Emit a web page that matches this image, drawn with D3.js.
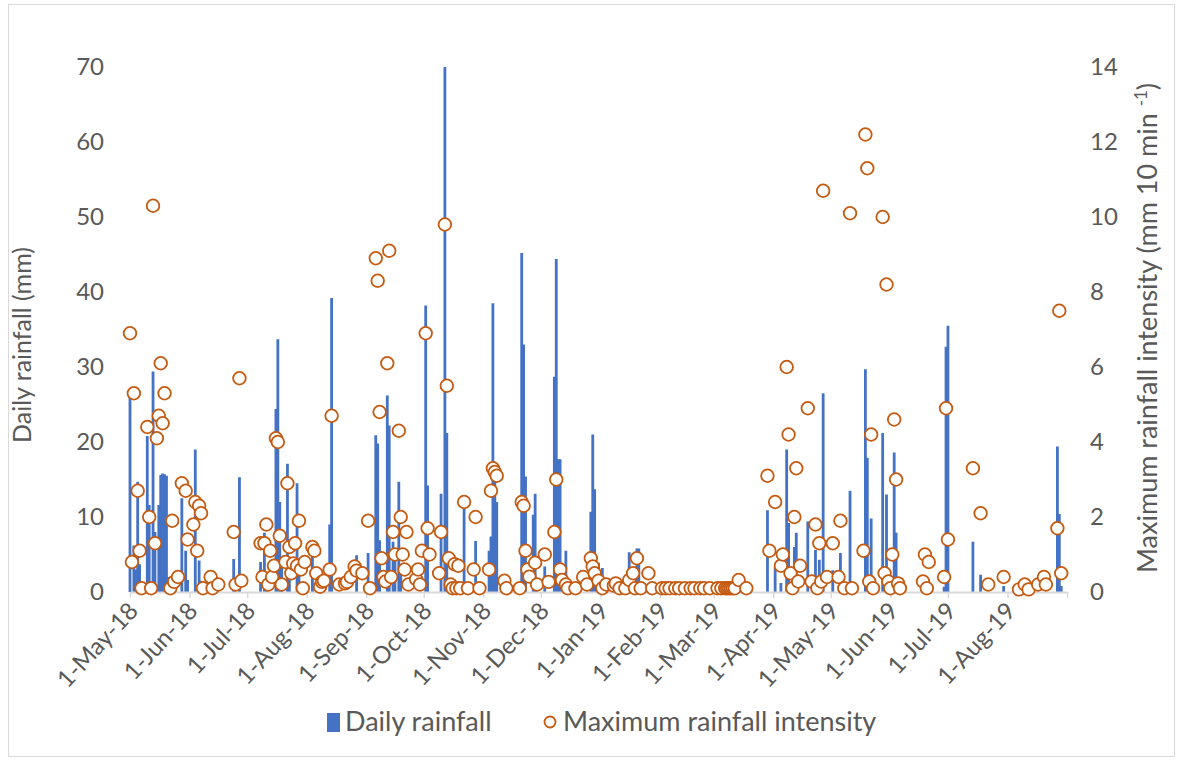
<!DOCTYPE html>
<html>
<head>
<meta charset="utf-8">
<script src="https://cdn.jsdelivr.net/npm/d3@7"></script>
<style>
  html, body { margin: 0; padding: 0; background: #ffffff; }
  svg { display: block; font-family: Lato, "Liberation Sans", sans-serif; }
</style>
</head>
<body>
<svg id="chart" width="1180" height="760"></svg>
<script>
// Daily rainfall (mm), one entry per rain day
const rainfallDays = [
  ["2018-05-01",26.3],["2018-05-03",6.2],["2018-05-04",3.0],["2018-05-05",14.7],["2018-05-06",3.7],
  ["2018-05-07",1.2],["2018-05-10",20.8],["2018-05-11",11.6],["2018-05-13",29.4],["2018-05-14",8.0],
  ["2018-05-16",11.6],["2018-05-17",15.6],["2018-05-18",15.8],["2018-05-19",15.7],["2018-05-20",15.5],
  ["2018-05-21",2.0],["2018-05-22",1.0],["2018-05-28",12.5],["2018-05-30",5.5],["2018-05-31",1.6],
  ["2018-06-04",19.0],["2018-06-06",4.2],["2018-06-07",1.5],["2018-06-24",4.4],["2018-06-27",15.3],
  ["2018-07-08",4.0],["2018-07-10",7.9],["2018-07-11",2.0],["2018-07-16",24.4],["2018-07-17",33.7],
  ["2018-07-18",12.0],["2018-07-19",4.0],["2018-07-22",17.1],["2018-07-23",3.0],["2018-07-27",14.5],
  ["2018-07-28",4.0],["2018-08-04",6.0],["2018-08-13",9.0],["2018-08-14",39.2],["2018-08-27",4.9],
  ["2018-09-02",5.2],["2018-09-06",20.9],["2018-09-07",19.8],["2018-09-08",6.9],["2018-09-12",26.2],
  ["2018-09-13",22.2],["2018-09-15",6.7],["2018-09-16",5.2],["2018-09-18",14.7],["2018-09-19",2.5],
  ["2018-10-02",38.2],["2018-10-03",14.2],["2018-10-10",13.1],["2018-10-12",70.0],["2018-10-13",21.2],
  ["2018-10-22",11.1],["2018-10-28",6.8],["2018-11-04",5.5],["2018-11-05",7.4],["2018-11-06",38.5],
  ["2018-11-07",16.1],["2018-11-08",12.0],["2018-11-21",45.2],["2018-11-22",33.0],["2018-11-23",15.4],
  ["2018-11-27",10.3],["2018-11-28",13.1],["2018-12-03",3.4],["2018-12-08",28.7],["2018-12-09",44.4],
  ["2018-12-10",17.7],["2018-12-11",17.7],["2018-12-14",5.5],["2018-12-27",10.7],["2018-12-28",21.0],
  ["2018-12-29",13.7],["2018-12-31",3.9],["2019-01-02",3.2],["2019-01-16",5.3],["2019-01-20",5.8],
  ["2019-01-21",5.8],["2019-03-29",10.9],["2019-04-02",3.3],["2019-04-05",1.2],["2019-04-08",19.0],
  ["2019-04-09",9.2],["2019-04-12",6.0],["2019-04-13",7.9],["2019-04-19",9.4],["2019-04-23",5.6],
  ["2019-04-25",4.3],["2019-04-27",26.5],["2019-05-02",2.9],["2019-05-06",5.2],["2019-05-11",13.5],
  ["2019-05-19",29.7],["2019-05-20",17.9],["2019-05-22",9.8],["2019-05-28",21.2],["2019-05-30",13.0],
  ["2019-06-03",18.6],["2019-06-04",7.9],["2019-06-29",0.7],["2019-06-30",32.7],["2019-07-01",35.5],
  ["2019-07-14",6.7],["2019-07-18",2.3],["2019-07-30",0.8],["2019-08-27",19.4],["2019-08-28",10.4],
  ["2019-08-29",0.8]
];

// Maximum 10-minute rainfall intensity (mm 10 min-1)
const intensityDays = [
  ["2018-05-01",6.9],["2018-05-02",0.8],["2018-05-03",5.3],["2018-05-05",2.7],["2018-05-06",1.1],
  ["2018-05-07",0.1],["2018-05-10",4.4],["2018-05-11",2.0],["2018-05-12",0.1],["2018-05-13",10.3],
  ["2018-05-14",1.3],["2018-05-15",4.1],["2018-05-16",4.7],["2018-05-17",6.1],["2018-05-18",4.5],
  ["2018-05-19",5.3],["2018-05-22",0.1],["2018-05-23",1.9],["2018-05-24",0.27],["2018-05-26",0.4],
  ["2018-05-28",2.9],["2018-05-30",2.7],["2018-05-31",1.4],["2018-06-03",1.8],["2018-06-04",2.4],
  ["2018-06-05",1.1],["2018-06-06",2.3],["2018-06-07",2.1],["2018-06-08",0.1],["2018-06-12",0.4],
  ["2018-06-13",0.1],["2018-06-16",0.2],["2018-06-24",1.6],["2018-06-25",0.2],["2018-06-27",5.7],
  ["2018-06-28",0.3],["2018-07-08",1.3],["2018-07-09",0.4],["2018-07-10",1.3],["2018-07-11",1.8],
  ["2018-07-12",0.2],["2018-07-13",1.1],["2018-07-14",0.4],["2018-07-15",0.7],["2018-07-16",4.1],
  ["2018-07-17",4.0],["2018-07-18",1.5],["2018-07-19",0.2],["2018-07-21",0.8],["2018-07-22",2.9],
  ["2018-07-23",1.2],["2018-07-24",0.5],["2018-07-25",0.76],["2018-07-26",1.3],["2018-07-27",0.7],
  ["2018-07-28",1.9],["2018-07-29",0.6],["2018-07-30",0.1],["2018-07-31",0.8],["2018-08-04",1.2],
  ["2018-08-05",1.1],["2018-08-06",0.5],["2018-08-08",0.14],["2018-08-09",0.27],["2018-08-10",0.3],
  ["2018-08-13",0.6],["2018-08-14",4.7],["2018-08-18",0.2],["2018-08-21",0.23],["2018-08-22",0.27],
  ["2018-08-24",0.4],["2018-08-26",0.68],["2018-08-27",0.57],["2018-08-30",0.5],["2018-09-02",1.9],
  ["2018-09-03",0.1],["2018-09-06",8.9],["2018-09-07",8.3],["2018-09-08",4.8],["2018-09-09",0.9],
  ["2018-09-10",0.4],["2018-09-11",0.28],["2018-09-12",6.1],["2018-09-13",9.1],["2018-09-14",0.4],
  ["2018-09-15",1.6],["2018-09-16",1.0],["2018-09-18",4.3],["2018-09-19",2.0],["2018-09-20",1.0],
  ["2018-09-21",0.6],["2018-09-22",1.6],["2018-09-23",0.2],["2018-09-27",0.34],["2018-09-28",0.6],
  ["2018-09-29",0.2],["2018-09-30",1.1],["2018-10-02",6.9],["2018-10-03",1.7],["2018-10-04",1.0],
  ["2018-10-09",0.5],["2018-10-10",1.6],["2018-10-12",9.8],["2018-10-13",5.5],["2018-10-14",0.9],
  ["2018-10-15",0.2],["2018-10-16",0.1],["2018-10-17",0.74],["2018-10-18",0.1],["2018-10-19",0.7],
  ["2018-10-20",0.1],["2018-10-22",2.4],["2018-10-24",0.1],["2018-10-27",0.6],["2018-10-28",2.0],
  ["2018-10-30",0.1],["2018-11-04",0.6],["2018-11-05",2.7],["2018-11-06",3.3],["2018-11-07",3.2],
  ["2018-11-08",3.1],["2018-11-12",0.3],["2018-11-13",0.1],["2018-11-20",0.1],["2018-11-21",2.4],
  ["2018-11-22",2.3],["2018-11-23",1.1],["2018-11-24",0.6],["2018-11-25",0.41],["2018-11-28",0.78],
  ["2018-11-29",0.2],["2018-12-03",1.0],["2018-12-05",0.27],["2018-12-08",1.6],["2018-12-09",3.0],
  ["2018-12-11",0.6],["2018-12-12",0.32],["2018-12-14",0.2],["2018-12-15",0.1],["2018-12-19",0.1],
  ["2018-12-23",0.4],["2018-12-25",0.2],["2018-12-27",0.9],["2018-12-28",0.68],["2018-12-29",0.5],
  ["2018-12-31",0.3],["2019-01-02",0.1],["2019-01-04",0.2],["2019-01-08",0.17],["2019-01-09",0.23],
  ["2019-01-11",0.1],["2019-01-14",0.1],["2019-01-16",0.32],["2019-01-18",0.5],["2019-01-19",0.1],
  ["2019-01-20",0.9],["2019-01-22",0.1],["2019-01-26",0.5],["2019-01-28",0.1],["2019-02-02",0.1],
  ["2019-02-04",0.1],["2019-02-06",0.1],["2019-02-09",0.1],["2019-02-11",0.1],["2019-02-14",0.1],
  ["2019-02-17",0.1],["2019-02-19",0.1],["2019-02-22",0.1],["2019-02-24",0.1],["2019-02-27",0.1],
  ["2019-03-03",0.1],["2019-03-05",0.1],["2019-03-07",0.1],["2019-03-08",0.1],["2019-03-09",0.1],
  ["2019-03-10",0.1],["2019-03-11",0.1],["2019-03-12",0.1],["2019-03-14",0.32],["2019-03-18",0.1],
  ["2019-03-29",3.1],["2019-03-30",1.1],["2019-04-02",2.4],["2019-04-05",0.7],["2019-04-06",1.0],
  ["2019-04-08",6.0],["2019-04-09",4.2],["2019-04-10",0.5],["2019-04-11",0.1],["2019-04-12",2.0],
  ["2019-04-13",3.3],["2019-04-14",0.28],["2019-04-15",0.7],["2019-04-19",4.9],["2019-04-21",0.28],
  ["2019-04-23",1.8],["2019-04-24",0.1],["2019-04-25",1.3],["2019-04-26",0.28],["2019-04-27",10.7],
  ["2019-04-29",0.4],["2019-05-02",1.3],["2019-05-05",0.4],["2019-05-06",1.9],["2019-05-08",0.1],
  ["2019-05-11",10.1],["2019-05-12",0.1],["2019-05-18",1.1],["2019-05-19",12.2],["2019-05-20",11.3],
  ["2019-05-21",0.28],["2019-05-22",4.2],["2019-05-23",0.1],["2019-05-28",10.0],["2019-05-29",0.5],
  ["2019-05-30",8.2],["2019-05-31",0.28],["2019-06-01",0.1],["2019-06-02",1.0],["2019-06-03",4.6],
  ["2019-06-04",3.0],["2019-06-05",0.23],["2019-06-06",0.1],["2019-06-18",0.28],["2019-06-19",1.0],
  ["2019-06-20",0.1],["2019-06-21",0.8],["2019-06-29",0.4],["2019-06-30",4.9],["2019-07-01",1.4],
  ["2019-07-14",3.3],["2019-07-18",2.1],["2019-07-22",0.2],["2019-07-30",0.4],["2019-08-07",0.07],
  ["2019-08-10",0.2],["2019-08-12",0.07],["2019-08-17",0.2],["2019-08-20",0.4],["2019-08-21",0.2],
  ["2019-08-27",1.7],["2019-08-28",7.5],["2019-08-29",0.5]
];

const dateRange = ["2018-05-01", "2019-09-01"];
const rainfallTicks = [0, 10, 20, 30, 40, 50, 60, 70];
const intensityTicks = [0, 2, 4, 6, 8, 10, 12, 14];
const seriesNames = ["Daily rainfall", "Maximum rainfall intensity"];

const BLUE = "#4472C4", ORANGE = "#C55A11", TEXT = "#595959", GRID = "#D9D9D9";
const FONT = "Lato, sans-serif";

const parse = d3.utcParse("%Y-%m-%d");
const svg = d3.select("#chart");

// outer chart frame
svg.append("rect").attr("x", 8.5).attr("y", 4.5).attr("width", 1166).attr("height", 752)
  .attr("fill", "none").attr("stroke", GRID).attr("stroke-width", 1);

const x = d3.scaleUtc().domain(dateRange.map(parse)).range([130, 1067]);
const yL = d3.scaleLinear().domain([0, 70]).range([592, 67]);
const yR = d3.scaleLinear().domain([0, 14]).range([592, 67]);

// left value axis
const gL = svg.append("g").attr("transform", "translate(130,0)")
  .call(d3.axisLeft(yL).tickValues(rainfallTicks).tickSize(0).tickPadding(26));
gL.select(".domain").remove();
gL.selectAll("text").attr("fill", TEXT).style("font-size", "24px").style("font-family", FONT);

// right value axis
const gR = svg.append("g").attr("transform", "translate(1067,0)")
  .call(d3.axisRight(yR).tickValues(intensityTicks).tickSize(0).tickPadding(23));
gR.select(".domain").remove();
gR.selectAll("text").attr("fill", TEXT).style("font-size", "24px").style("font-family", FONT);

// daily rainfall bars
svg.append("g").selectAll("rect").data(rainfallDays).join("rect")
  .attr("x", d => x(parse(d[0])) - 1.4)
  .attr("width", 2.8)
  .attr("y", d => yL(d[1]))
  .attr("height", d => yL(0) - yL(d[1]))
  .attr("fill", BLUE);

// date axis, one tick per month
const months = d3.utcMonth.range(parse(dateRange[0]), d3.utcDay.offset(parse(dateRange[1]), 1));
const lastLabel = parse("2019-08-01");
const fmt = d3.utcFormat("%-d-%b-%y");
const gX = svg.append("g").attr("transform", "translate(0,592)")
  .call(d3.axisBottom(x).tickValues(months).tickSize(6).tickSizeOuter(0)
    .tickFormat(d => d > lastLabel ? "" : fmt(d)));
gX.select(".domain").attr("stroke", GRID).attr("stroke-width", 2);
gX.selectAll(".tick line").attr("stroke", GRID).attr("stroke-width", 1.5);
gX.selectAll("text")
  .attr("fill", TEXT).style("font-size", "24px").style("font-family", FONT)
  .attr("text-anchor", "end").attr("dy", null).attr("y", 0)
  .attr("transform", "translate(9,20) rotate(-47)");

// maximum intensity markers
svg.append("g").selectAll("circle").data(intensityDays).join("circle")
  .attr("cx", d => x(parse(d[0])))
  .attr("cy", d => yR(d[1]))
  .attr("r", 6.3)
  .attr("fill", "#ffffff")
  .attr("stroke", ORANGE)
  .attr("stroke-width", 1.8);

// axis titles
svg.append("text")
  .attr("transform", "translate(31,345) rotate(-90)")
  .attr("text-anchor", "middle").attr("fill", TEXT)
  .style("font-size", "25px")
  .text("Daily rainfall (mm)");

const rt = svg.append("text")
  .attr("transform", "translate(1157,328) rotate(-90)")
  .attr("text-anchor", "middle").attr("fill", TEXT)
  .style("font-size", "27px");
rt.append("tspan").text("Maximum rainfall intensity (mm 10 min ");
rt.append("tspan").attr("dy", -10).style("font-size", "17px").text("-1");
rt.append("tspan").attr("dy", 10).text(")");

// legend
const lg = svg.append("g");
lg.append("rect").attr("x", 327).attr("y", 713).attr("width", 13).attr("height", 19).attr("fill", BLUE);
lg.append("text").attr("x", 345).attr("y", 731).attr("fill", TEXT).style("font-size", "27px").text(seriesNames[0]);
lg.append("circle").attr("cx", 550).attr("cy", 722).attr("r", 5.5)
  .attr("fill", "#fff").attr("stroke", ORANGE).attr("stroke-width", 1.8);
lg.append("text").attr("x", 563).attr("y", 731).attr("fill", TEXT).style("font-size", "27px").text(seriesNames[1]);
</script>
</body>
</html>
